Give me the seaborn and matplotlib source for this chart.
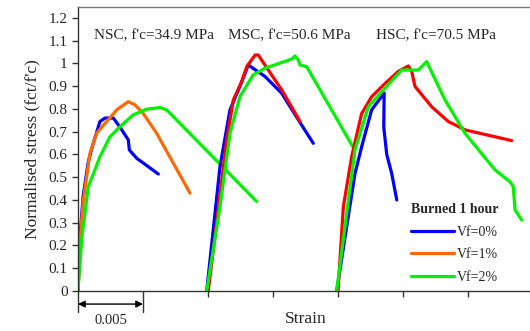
import matplotlib
matplotlib.use("Agg")
import matplotlib.pyplot as plt
import seaborn as sns
from matplotlib.lines import Line2D

# 应变-归一化应力数据 (Burned 1 hour)
# NSC, f'c=34.9 MPa
nsc_0_x = [0, 0.0001, 0.0004, 0.0008, 0.00118, 0.00169, 0.00208, 0.00272, 0.00323, 0.00387, 0.00395, 0.00452, 0.00618]
nsc_0_y = [0, 0.2, 0.42, 0.57, 0.65, 0.745, 0.76, 0.76, 0.72, 0.664, 0.62, 0.583, 0.514]
nsc_1_x = [0, 0.0002, 0.00041, 0.00092, 0.00144, 0.00221, 0.00298, 0.00387, 0.00438, 0.00502, 0.00605, 0.00862]
nsc_1_y = [0, 0.25, 0.4, 0.605, 0.694, 0.745, 0.796, 0.832, 0.818, 0.78, 0.693, 0.43]
nsc_2_x = [0, 0.00028, 0.00079, 0.00169, 0.00246, 0.00323, 0.00425, 0.00528, 0.00631, 0.00682, 0.01375]
nsc_2_y = [0, 0.224, 0.458, 0.59, 0.678, 0.722, 0.774, 0.799, 0.806, 0.796, 0.393]

# MSC, f'c=50.6 MPa
msc_0_x = [0.0099, 0.01092, 0.01169, 0.01246, 0.0131, 0.01438, 0.01567, 0.01695, 0.0181]
msc_0_y = [0, 0.546, 0.796, 0.90, 0.993, 0.943, 0.869, 0.752, 0.649]
msc_1_x = [0.01002, 0.01144, 0.01195, 0.01259, 0.01298, 0.01362, 0.01387, 0.01438, 0.01567, 0.01708]
msc_1_y = [0, 0.664, 0.84, 0.92, 0.986, 1.037, 1.037, 0.993, 0.884, 0.745]
msc_2_x = [0.0099, 0.01092, 0.01169, 0.01246, 0.01348, 0.01438, 0.01644, 0.01669, 0.01695, 0.01708, 0.01759, 0.02118]
msc_2_y = [0, 0.37, 0.693, 0.854, 0.95, 0.979, 1.019, 1.033, 1.015, 0.993, 0.986, 0.63]

# HSC, f'c=70.5 MPa
hsc_0_x = [0.0199, 0.02079, 0.02131, 0.02182, 0.02259, 0.02355, 0.02352, 0.02375, 0.02413, 0.02452]
hsc_0_y = [0, 0.327, 0.517, 0.634, 0.796, 0.87, 0.72, 0.60, 0.517, 0.40]
hsc_1_x = [0.02, 0.02041, 0.02105, 0.02182, 0.02259, 0.02362, 0.02464, 0.02541, 0.02567, 0.02592, 0.0272, 0.02848, 0.02977, 0.03336]
hsc_1_y = [0, 0.37, 0.59, 0.78, 0.854, 0.912, 0.965, 0.989, 0.965, 0.899, 0.81, 0.745, 0.708, 0.661]
hsc_2_x = [0.0199, 0.02067, 0.02131, 0.02233, 0.02362, 0.0249, 0.02618, 0.02682, 0.02823, 0.02977, 0.03208, 0.03323, 0.03348, 0.03362, 0.03413]
hsc_2_y = [0, 0.342, 0.62, 0.81, 0.891, 0.971, 0.971, 1.008, 0.84, 0.693, 0.532, 0.48, 0.459, 0.356, 0.312]

group_labels = ["NSC, f'c=34.9 MPa", "MSC, f'c=50.6 MPa", "HSC, f'c=70.5 MPa"]
legend_labels = ["Vf=0%", "Vf=1%", "Vf=2%"]
y_ticks = [0, 0.1, 0.2, 0.3, 0.4, 0.5, 0.6, 0.7, 0.8, 0.9, 1.0, 1.1, 1.2]
y_tick_labels = ["0", "0.1", "0.2", "0.3", "0.4", "0.5", "0.6", "0.7", "0.8", "0.9", "1", "1.1", "1.2"]

blue = "#0000FF"
orange = "#FF6A00"
red = "#FF0000"
green = "#00F000"

sns.set_style("ticks")
plt.rcParams['font.family'] = ['Liberation Serif', 'DejaVu Serif']

fig = plt.figure(figsize=(5.3, 3.31), dpi=100)
ax = fig.add_axes([78 / 530, 40 / 331, 455 / 530, 284 / 331])

lw = 2.3
curves = [
    (nsc_0_x, nsc_0_y, blue), (nsc_1_x, nsc_1_y, orange), (nsc_2_x, nsc_2_y, green),
    (msc_0_x, msc_0_y, blue), (msc_1_x, msc_1_y, red), (msc_2_x, msc_2_y, green),
    (hsc_0_x, hsc_0_y, blue), (hsc_1_x, hsc_1_y, red), (hsc_2_x, hsc_2_y, green),
]
for xs, ys, c in curves:
    sns.lineplot(x=xs, y=ys, sort=False, estimator=None, color=c, linewidth=lw, ax=ax)

ax.set_xlim(0, 0.035)
ax.set_ylim(0, 1.248)
ax.set_xticks([0, 0.005, 0.01, 0.015, 0.02, 0.025, 0.03])
ax.set_xticklabels([])
ax.set_yticks(y_ticks)
ax.set_yticklabels(y_tick_labels, fontsize=11)
ax.tick_params(axis='both', direction='out', length=4, width=1, color='#333333')
for s in ['left', 'bottom', 'top', 'right']:
    ax.spines[s].set_color('#333333')
    ax.spines[s].set_linewidth(1)
ax.spines['top'].set_color('#777777')

ax.set_ylabel("Normalised stress (fct/f'c)", fontsize=12.5, labelpad=6)
ax.set_xlabel("Strain", fontsize=12.5, labelpad=7)

# 分组标注
for xpos, txt in zip([0.00125, 0.0115, 0.0229], group_labels):
    ax.text(xpos, 1.12, txt, fontsize=11, va='center', ha='left')

# 比例尺 0.005
trans = ax.get_xaxis_transform()
ax.annotate('', xy=(0, -0.046), xytext=(0.005, -0.046), xycoords=trans, textcoords=trans,
            arrowprops=dict(arrowstyle='<|-|>', color='black', lw=1, shrinkA=0, shrinkB=0,
                            mutation_scale=10), annotation_clip=False)
for xv in [0, 0.005]:
    ax.plot([xv, xv], [-0.02, -0.075], transform=trans, color='#333333', lw=1, clip_on=False)
ax.text(0.0025, -0.105, "0.005", transform=trans, ha='center', va='center', fontsize=10.5)

handles = [Line2D([], [], color=c, lw=lw) for c in [blue, orange, green]]
leg = ax.legend(handles, legend_labels, title="Burned 1 hour", frameon=False, fontsize=10,
                loc='lower left', bbox_to_anchor=(0.72, 0.005), handlelength=3.1,
                handletextpad=0.2, labelspacing=0.7, borderaxespad=0,
                title_fontproperties={'weight': 'bold', 'size': 10})

fig.savefig("out.png", dpi=100)
